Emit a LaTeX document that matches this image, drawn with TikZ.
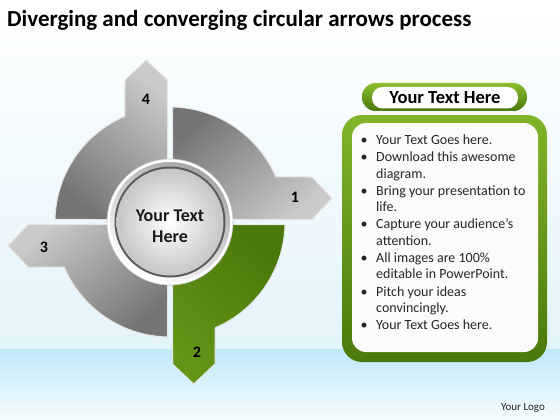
\documentclass[tikz,border=0pt]{standalone}
\usepackage{fontspec}
\setmainfont{Carlito}
\usetikzlibrary{calc}
\definecolor{bgmid}{HTML}{E3F4FB}
\definecolor{bandtop}{HTML}{BFE9F9}
\definecolor{bandbot}{HTML}{F6FCFE}
\definecolor{gdark}{HTML}{4A780B}
\definecolor{glight}{HTML}{8CBF2E}
\definecolor{gmid}{HTML}{5A8B12}
\definecolor{qlight}{HTML}{CACACA}
\definecolor{qdark}{HTML}{747474}
\tikzset{
  quad/.style={draw=white!80!gray, line width=1pt, line join=round},
  numlbl/.style={font=\fontsize{16}{16}\selectfont\bfseries, text=black},
  bul/.style={anchor=base west, inner sep=0pt, font=\fontsize{14}{16}\selectfont, text=black!85},
}
\begin{document}
\begin{tikzpicture}[x=1pt,y=1pt]
\useasboundingbox (0,0) rectangle (560,-420);
% background
\shade[top color=white, bottom color=bgmid] (0,0) rectangle (560,-349);
\shade[top color=bandtop, bottom color=bandbot] (0,-349) rectangle (560,-420);
% title
\node[anchor=west, inner sep=0pt, font=\fontsize{23}{26}\selectfont\bfseries] (title) at (7,-20) {Diverging and converging circular arrows process};
% quadrants
\begin{scope}[shift={(170,-222)}]
  % 4 top-left
  \path[quad, top color=qlight, bottom color=qdark, shading angle=-40]
    (92.31:62) -- (-2.5,142) -- (-23.75,162) -- (-45,142) -- (113.04:115)
    arc[start angle=113.04, end angle=178.75, radius=115] -- (177.69:62)
    arc[start angle=177.69, end angle=92.31, radius=62] -- cycle;
  % 1 top-right
  \path[quad, top color=qlight, bottom color=qdark, shading angle=-140]
    (2.31:62) -- (142,2.5) -- (162,23.75) -- (142,45) -- (23.04:115)
    arc[start angle=23.04, end angle=88.75, radius=115] -- (87.69:62)
    arc[start angle=87.69, end angle=2.31, radius=62] -- cycle;
  % 2 bottom-right (green)
  \path[quad, top color=gmid!80!glight, bottom color=gdark, shading angle=140]
    (-87.69:62) -- (2.5,-142) -- (23.75,-162) -- (45,-142) -- (-66.96:115)
    arc[start angle=-66.96, end angle=-1.25, radius=115] -- (-2.31:62)
    arc[start angle=-2.31, end angle=-87.69, radius=62] -- cycle;
  % 3 bottom-left
  \path[quad, top color=qlight, bottom color=qdark, shading angle=40]
    (182.31:62) -- (-142,-2.5) -- (-162,-23.75) -- (-142,-45) -- (203.04:115)
    arc[start angle=203.04, end angle=268.75, radius=115] -- (267.69:62)
    arc[start angle=267.69, end angle=182.31, radius=62] -- cycle;
  % centre disc
  \fill[white] (0,0) circle[radius=63];
  \draw[gray!45, line width=0.6pt] (0,0) circle[radius=63];
  \shade[top color=gray!70, bottom color=white, shading angle=-30] (0,0) circle[radius=60];
  \fill[black!65] (0,0) circle[radius=55.5];
  \shade[inner color=white, outer color=gray!45] (0,0) circle[radius=53.5];
  \node[font=\fontsize{18}{21}\selectfont\bfseries, align=center, text=black!90] (ctext) at (0,-4) {Your Text\\Here};
  % numbers
  \node[numlbl] (n4) at (-24,123) {4};
  \node[numlbl] (n1) at (125,25) {1};
  \node[numlbl] (n2) at (27,-130) {2};
  \node[numlbl] (n3) at (-126,-25) {3};
\end{scope}
% header pill
\shade[top color=glight, bottom color=gdark, rounded corners=13.5] (362,-83) rectangle (527,-111);
\fill[white, rounded corners=10.5] (372,-87) rectangle (518,-108.5);
\node[font=\fontsize{18.5}{20}\selectfont\bfseries, text=black] (head) at (445,-98) {Your Text Here};
% main box
\shade[top color=glight!80!gmid, bottom color=gdark, rounded corners=20] (342,-115) rectangle (547,-362);
\fill[white!97!gray, rounded corners=14] (352,-123) rectangle (538,-352);
% bullet list
\foreach \yy/\txt/\b [count=\i] in {
  140/{Your Text Goes here.}/1,
  157.3/{Download this awesome}/1,
  174/{diagram.}/0,
  190.7/{Bring your presentation to}/1,
  207.3/{life.}/0,
  224/{Capture your audience’s}/1,
  241/{attention.}/0,
  258.3/{All images are 100\%}/1,
  274.3/{editable in PowerPoint.}/0,
  291.7/{Pitch your ideas}/1,
  307.7/{convincingly.}/0,
  325/{Your Text Goes here.}/1} {
  \node[bul] (line\i) at (376,-\yy-4.5) {\txt};
  \ifnum\b=1 \node[bul] (bul\i) at (360.5,-\yy-4.5) {•};\fi
}
% logo
\node[font=\fontsize{11}{12}\selectfont, text=black!85] (logo) at (523,-408) {Your Logo};
\end{tikzpicture}
\end{document}
